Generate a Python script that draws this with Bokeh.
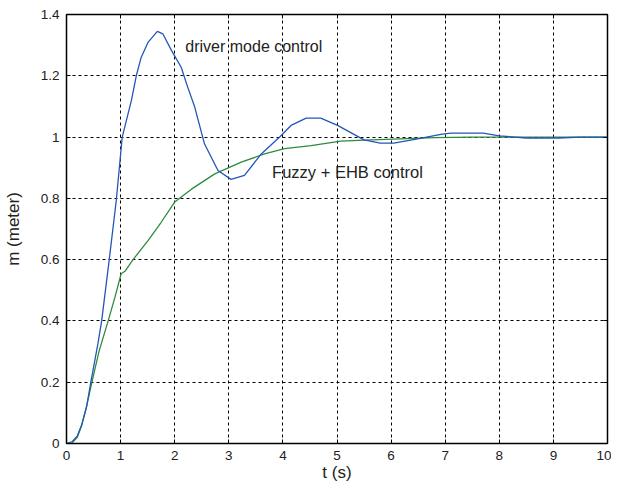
from bokeh.plotting import figure
from bokeh.models import LinearAxis, FixedTicker, Range1d, Label
from bokeh.embed import file_html
from bokeh.resources import INLINE

# Data
t_driver = [0, 0.1, 0.2, 0.28, 0.37, 0.45, 0.58, 0.65, 0.79, 0.92, 1.03, 1.2, 1.29, 1.38, 1.51,
            1.68, 1.78, 1.94, 2.12, 2.24, 2.37, 2.55, 2.8, 3.04, 3.29, 3.6, 3.94, 4.15, 4.43,
            4.7, 5.01, 5.5, 5.8, 6.05, 6.49, 6.92, 7.1, 7.7, 8.0, 8.5, 9.1, 9.5, 10.0]
m_driver = [0, 0.005, 0.025, 0.06, 0.119, 0.2, 0.325, 0.4, 0.6, 0.793, 1.0, 1.12, 1.2, 1.26, 1.31,
            1.345, 1.337, 1.283, 1.228, 1.163, 1.098, 0.978, 0.891, 0.862, 0.875, 0.945, 1.0, 1.038, 1.062,
            1.062, 1.038, 0.991, 0.98, 0.98, 0.994, 1.009, 1.013, 1.013, 1.004, 0.997, 0.997, 1.0, 1.0]

t_fuzzy = [0, 0.09, 0.2, 0.28, 0.37, 0.47, 0.6, 0.77, 0.9, 1.01, 1.08, 1.23, 1.51, 1.75, 2.0,
           2.31, 2.74, 3.23, 3.66, 4.03, 4.52, 5.07, 5.5, 6.18, 6.8, 7.5, 8.5, 10.0]
m_fuzzy = [0, 0.0, 0.02, 0.059, 0.12, 0.2, 0.3, 0.4, 0.48, 0.554, 0.562, 0.6, 0.663, 0.722, 0.788,
           0.83, 0.88, 0.918, 0.945, 0.962, 0.972, 0.987, 0.99, 0.994, 0.998, 1.0, 1.0, 1.0]

x_ticks = [0, 1, 2, 3, 4, 5, 6, 7, 8, 9, 10]
x_tick_labels = ["0", "1", "2", "3", "4", "5", "6", "7", "8", "9", "10"]
y_ticks = [0, 0.2, 0.4, 0.6, 0.8, 1.0, 1.2, 1.4]
y_tick_labels = ["0", "0.2", "0.4", "0.6", "0.8", "1", "1.2", "1.4"]

FONT = "Liberation Sans"

p = figure(width=611, height=486, output_backend="svg", toolbar_location=None,
           x_range=Range1d(0, 10), y_range=Range1d(0, 1.4),
           min_border_left=64, min_border_top=14, min_border_right=4, min_border_bottom=43)
p.outline_line_color = "black"
p.outline_line_width = 1.5
p.background_fill_color = "white"

for ax, ticks, labels in ((p.xaxis[0], x_ticks, x_tick_labels), (p.yaxis[0], y_ticks, y_tick_labels)):
    ax.ticker = FixedTicker(ticks=ticks)
    ax.major_label_overrides = {tk: lb for tk, lb in zip(ticks, labels)}
    ax.major_tick_in = 4
    ax.major_tick_out = 0
    ax.minor_tick_line_color = None
    ax.axis_line_color = "black"
    ax.major_tick_line_color = "black"
    ax.major_label_text_font = FONT
    ax.major_label_text_font_size = "13.5px"
    ax.major_label_text_color = "#222222"
    ax.axis_label_text_font = FONT
    ax.axis_label_text_font_size = "17px"
    ax.axis_label_text_font_style = "normal"
    ax.axis_label_text_color = "#222222"

p.xaxis.axis_label = "t (s)"
p.yaxis.axis_label = "m (meter)"
p.xaxis.major_label_standoff = 7
p.yaxis.major_label_standoff = 7
p.yaxis.axis_label_standoff = 15
p.xaxis.axis_label_standoff = 0

for loc, ticks in (("right", y_ticks), ("above", x_ticks)):
    ax = LinearAxis(ticker=FixedTicker(ticks=ticks), major_tick_in=4, major_tick_out=0,
                    minor_tick_line_color=None,
                    major_label_overrides={tk: "" for tk in ticks},
                    major_label_standoff=0, axis_line_color="black")
    p.add_layout(ax, loc)

p.xgrid.ticker = FixedTicker(ticks=x_ticks)
p.ygrid.ticker = FixedTicker(ticks=y_ticks)
for g in (p.xgrid[0], p.ygrid[0]):
    g.grid_line_color = "black"
    g.grid_line_dash = "3 3"
    g.grid_line_width = 1

p.line(t_fuzzy, m_fuzzy, line_color="#2e8b3e", line_width=1.3)
p.line(t_driver, m_driver, line_color="#2456b8", line_width=1.3)

p.add_layout(Label(x=2.196, y=1.297, text="driver mode control", text_font=FONT,
                   text_font_size="16px", text_color="#222222", text_baseline="middle"))
p.add_layout(Label(x=3.80, y=0.885, text="Fuzzy + EHB control", text_font=FONT,
                   text_font_size="16.5px", text_color="#222222", text_baseline="middle"))

open("out.html", "w").write(file_html(p, INLINE))
